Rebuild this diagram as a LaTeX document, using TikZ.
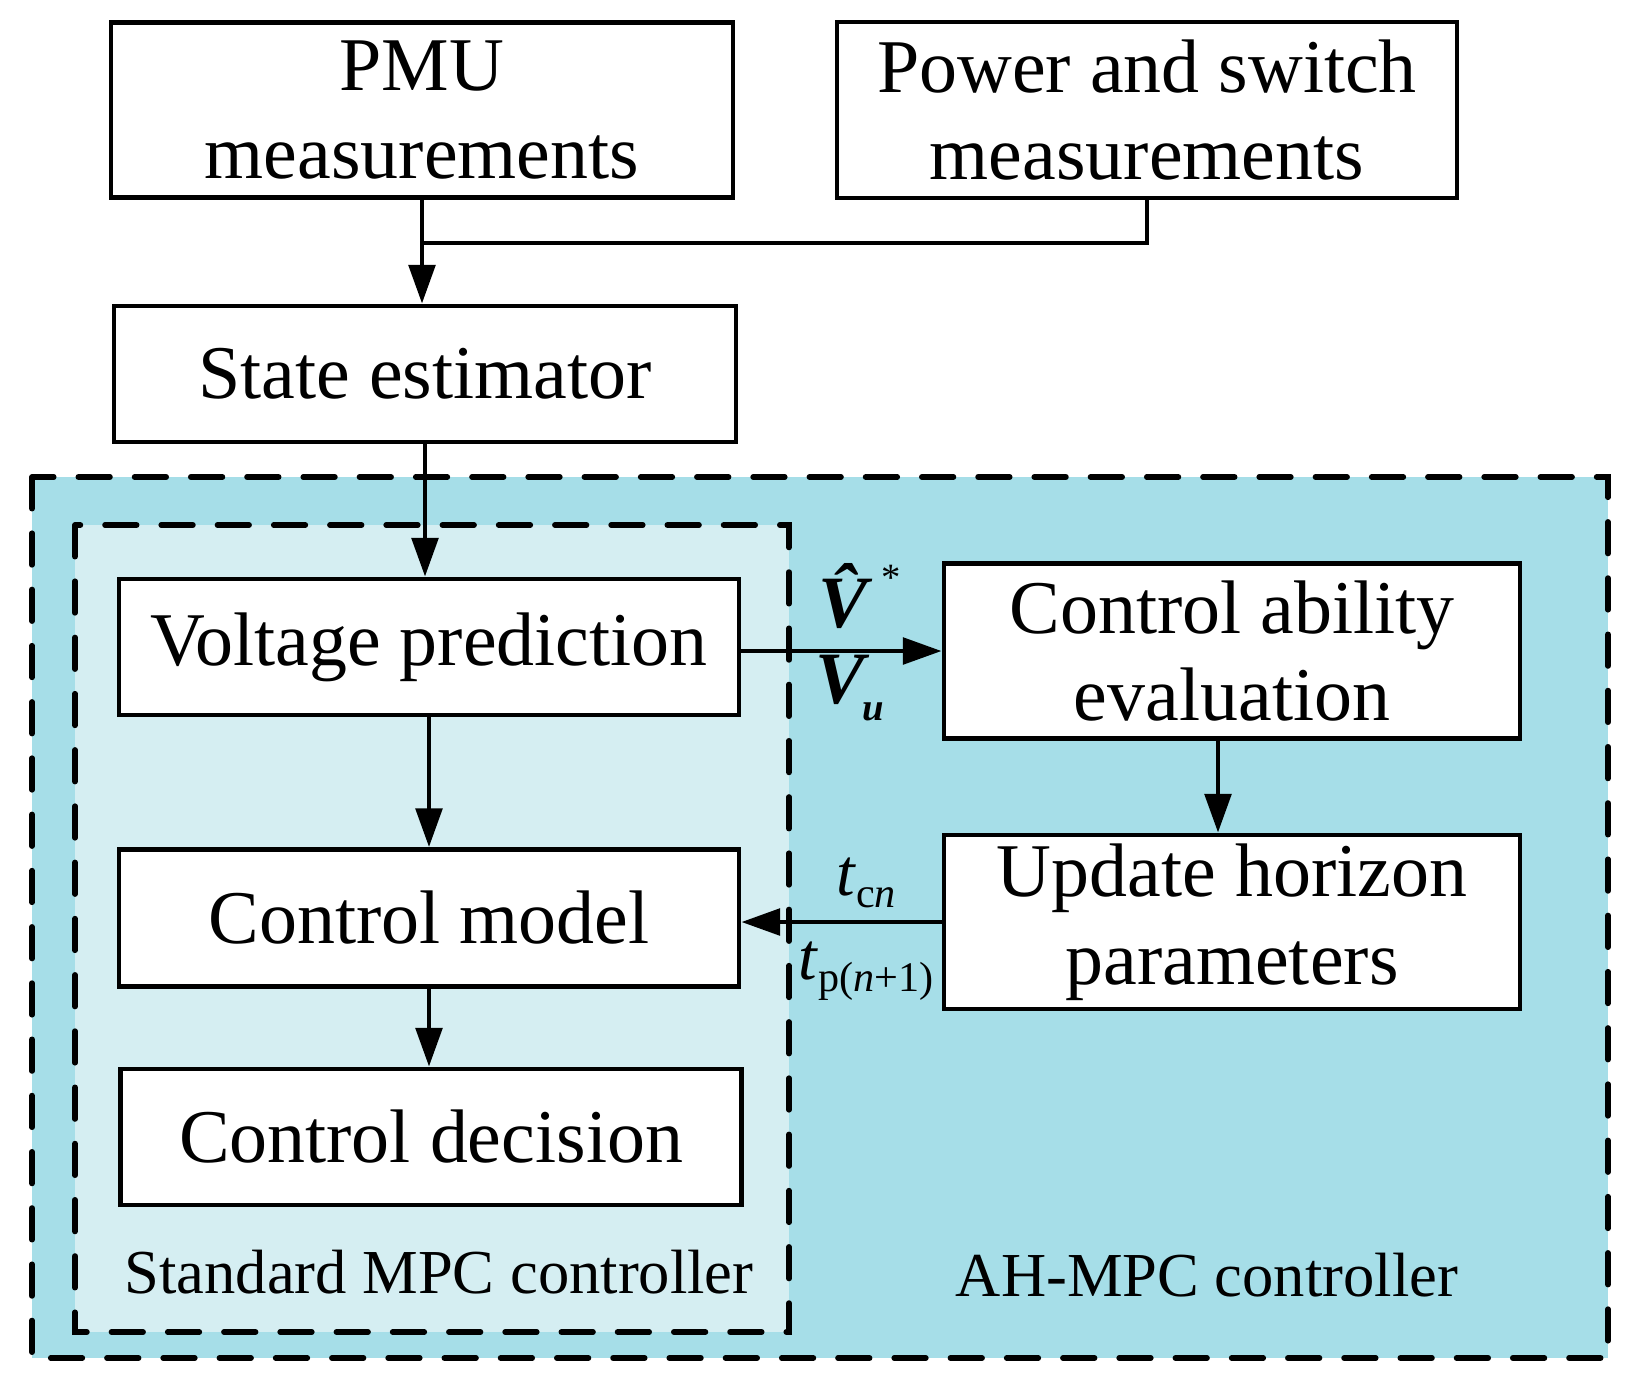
\documentclass[tikz,border=0pt]{standalone}
\usepackage{fontspec}
\setmainfont{Liberation Serif}
\usetikzlibrary{arrows.meta}
\definecolor{outerblue}{RGB}{166,222,232}
\definecolor{innerblue}{RGB}{213,238,242}

\begin{document}
\begin{tikzpicture}[x=0.1mm, y=-0.1mm,
   box/.style={draw=black, fill=white, line width=1.4pt, align=center,
      inner sep=0pt, font=\fontsize{21.6}{25}\selectfont},
   flow/.style={line width=1.3pt, -{Triangle[length=11pt,width=7.5pt]}},
   zone/.style={draw=black, line width=1.6pt, dash pattern=on 9pt off 7pt, line cap=round},
   lbl/.style={font=\fontsize{19}{22}\selectfont, inner sep=1pt},
   vlbl/.style={font=\fontsize{21}{24}\selectfont, inner sep=1pt},
   zonetitle/.style={font=\fontsize{17.8}{21}\selectfont}]
   \useasboundingbox (0,0) rectangle (1632,1389);

   % controller areas
   \fill[outerblue] (32,477) rectangle (1608,1358);
   \draw[zone] (32,477) rectangle (1608,1358);
   \fill[innerblue] (75,525) rectangle (789,1332);
   \draw[zone] (75,525) rectangle (789,1332);

   % measurements and estimator
   \node[box, minimum width=62.2mm, minimum height=17.5mm] (pmu) at (422,110) {PMU\\measurements};
   \node[box, minimum width=62mm, minimum height=17.6mm] (pow) at (1147,110) {Power and switch\\measurements};
   \node[box, minimum width=62.2mm, minimum height=13.6mm] (est) at (425,374) {State estimator};

   % standard MPC
   \node[box, minimum width=62mm, minimum height=13.6mm] (vp) at (429,647) {Voltage prediction};
   \node[box, minimum width=62mm, minimum height=13.7mm] (cm) at (429,918) {Control model};
   \node[box, minimum width=62.1mm, minimum height=13.6mm] (cd) at (431,1137) {Control decision};

   % horizon adaptation
   \node[box, minimum width=57.6mm, minimum height=17.5mm] (ca) at (1232,651) {Control ability\\evaluation};
   \node[box, minimum width=57.6mm, minimum height=17.4mm] (uh) at (1232,922) {Update horizon\\parameters};

   \node[zonetitle] (std) at (439,1272) {Standard MPC controller};
   \node[zonetitle] (ah) at (1207,1275) {AH-MPC controller};

   % connectors
   \coordinate (jn) at (423,243);
   \draw[line width=1.3pt] (pow.south) |- (jn);
   \draw[flow] (pmu.south) -- (pmu.south |- est.north);
   \draw[flow] (est.south) -- (est.south |- vp.north);
   \draw[flow] (vp.south) -- (cm.north);
   \draw[flow] (cm.south) -- (cm.south |- cd.north);
   \draw[flow] (vp.east |- ca.west) -- (ca.west);
   \draw[flow] ([xshift=-1.4mm]ca.south) -- ([xshift=-1.4mm]uh.north);
   \draw[flow] (uh.west) -- (uh.west -| cm.east);

   \node[vlbl] (vhat) at (860,596) {\textbf{\textit{\^{V}}}\kern-1pt\raisebox{1.1ex}{\fontsize{11}{11}\selectfont *}};
   \node[vlbl] (vu) at (850,688) {\textbf{\textit{V}}\kern-2pt\raisebox{-0.5ex}{\fontsize{11}{11}\selectfont\textbf{\textit{u}}}};
   \node[lbl] (tcn) at (866,883) {\textit{t}\raisebox{-0.4ex}{\fontsize{12}{12}\selectfont c\textit{n}}};
   \node[lbl] (tpn) at (866,971) {\textit{t}\raisebox{-0.4ex}{\fontsize{12}{12}\selectfont p(\textit{n}+1)}};

\end{tikzpicture}
\end{document}
